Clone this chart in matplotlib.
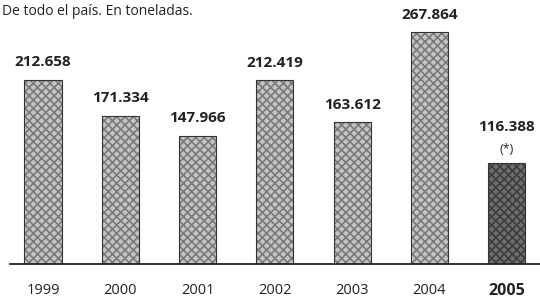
import matplotlib.pyplot as plt
import matplotlib as mpl

years = ['1999', '2000', '2001', '2002', '2003', '2004', '2005']
tons = [212658, 171334, 147966, 212419, 163612, 267864, 116388]
value_labels = ['212.658', '171.334', '147.966', '212.419', '163.612', '267.864', '116.388']
subtitle = 'De todo el país. En toneladas.'

plt.rcParams['font.family'] = ['Open Sans', 'DejaVu Sans']
mpl.rcParams['hatch.linewidth'] = 1.2

fig = plt.figure(figsize=(5.4, 2.99), dpi=100)
ax = fig.add_axes([0.0185, 0.118, 0.9815, 0.876])

face = ['#c4c4c4'] * 6 + ['#6e6e6e']
hatchc = ['#7a7a7a'] * 6 + ['#3e3e3e']
x = list(range(len(years)))
for i in x:
    ax.bar(i, tons[i], width=0.48, color=face[i], edgecolor=hatchc[i],
           hatch='xxxx', linewidth=0)
    ax.bar(i, tons[i], width=0.48, fill=False, edgecolor='#333333', linewidth=0.8)

for i in x[:-1]:
    ax.annotate(value_labels[i], (i, tons[i]), xytext=(0, 7.5), textcoords='offset points',
                ha='center', va='bottom', fontsize=11, fontweight='bold', color='#222222')
ax.annotate('(*)', (x[-1], tons[-1]), xytext=(0, 5), textcoords='offset points',
            ha='center', va='bottom', fontsize=9, color='#222222')
ax.annotate(value_labels[-1], (x[-1], tons[-1]), xytext=(0, 21), textcoords='offset points',
            ha='center', va='bottom', fontsize=11, fontweight='bold', color='#222222')

ax.set_xlim(-0.427, 6.43)
ax.set_ylim(0, 303000)
ax.set_xticks(x)
ax.set_xticklabels(years, fontsize=10.5, color='#222222')
ax.get_xticklabels()[-1].set_fontweight('bold')
ax.get_xticklabels()[-1].set_fontsize(11.5)
ax.tick_params(axis='x', length=0, pad=14)
ax.set_yticks([])
for s in ['top', 'right', 'left']:
    ax.spines[s].set_visible(False)
ax.spines['bottom'].set_linewidth(1.3)
ax.spines['bottom'].set_color('#222222')

fig.text(0.004, 0.985, subtitle, ha='left', va='top', fontsize=10, color='#222222')

fig.savefig('out.png', dpi=100)
